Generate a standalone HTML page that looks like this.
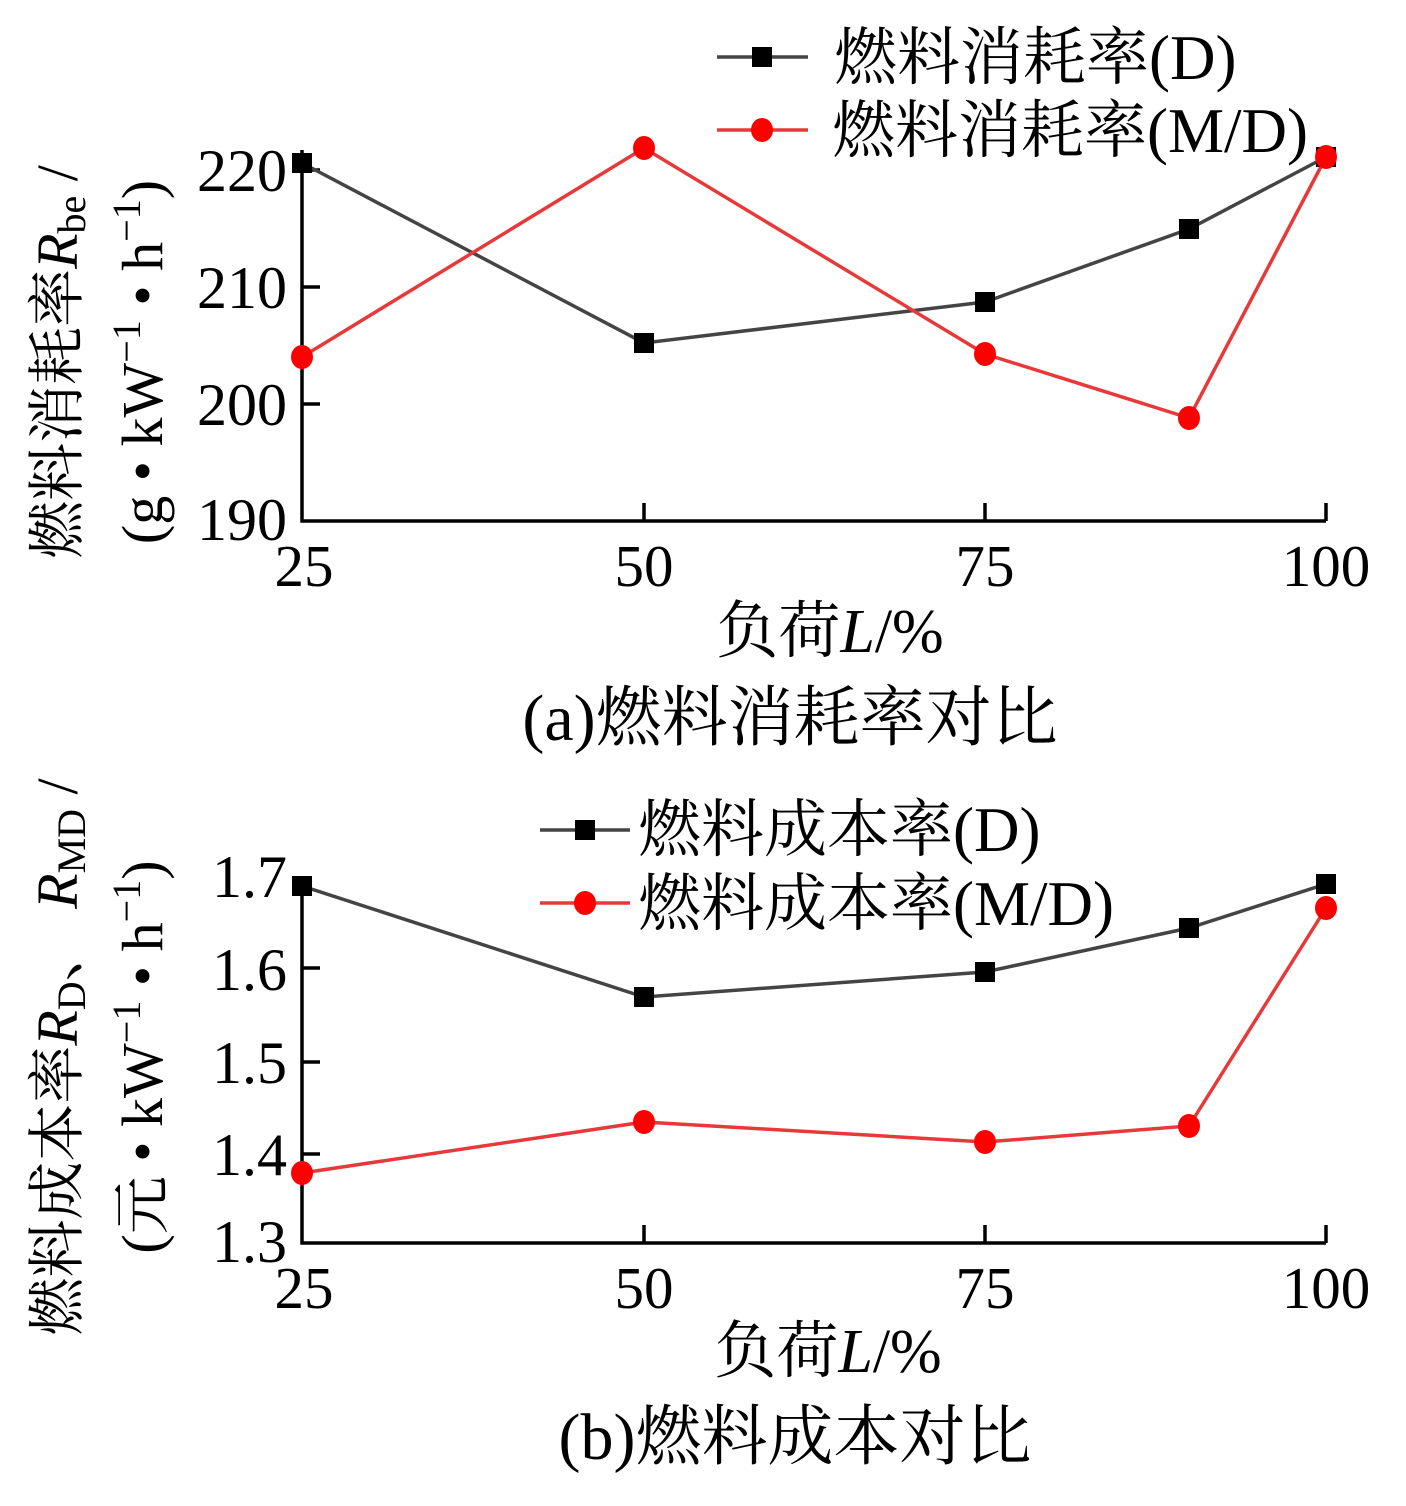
<!DOCTYPE html>
<html><head><meta charset="utf-8"><style>
html,body{margin:0;padding:0;background:#fff;}
svg{display:block;}
text{font-family:"Liberation Serif","Noto Serif CJK SC","Noto Sans CJK SC",serif;fill:#000;}
</style></head><body>
<svg width="1406" height="1506" viewBox="0 0 1406 1506" xmlns="http://www.w3.org/2000/svg">
<!-- Chart A -->
<g stroke="#000" stroke-width="3.5" fill="none">
<path d="M302,150 V521 H1326"/>
<path d="M302,287 H320 M302,404 H320 M302,170 H320"/>
<path d="M644,521 V503 M985,521 V503 M1326,521 V503"/>
</g>
<g font-size="60" text-anchor="end">
<text x="287" y="191">220</text><text x="287" y="308">210</text><text x="287" y="425">200</text><text x="287" y="540">190</text>
</g>
<g font-size="59" text-anchor="middle">
<text x="304" y="586">25</text><text x="644" y="586">50</text><text x="985" y="586">75</text><text x="1326" y="586">100</text>
<text x="830" y="652" font-size="62">负荷<tspan font-style="italic">L</tspan>/%</text>
<text x="790" y="740" font-size="66">(a)燃料消耗率对比</text>
</g>
<g transform="translate(77,362) rotate(-90)" font-size="58" text-anchor="middle">
<text x="0" y="0">燃料消耗率<tspan font-style="italic">R</tspan><tspan font-size="40" dy="8">be</tspan><tspan dy="-8"> /</tspan></text>
</g>
<g transform="translate(162,362) rotate(-90)" font-size="58" text-anchor="middle">
<text x="0" y="0">(g • kW<tspan font-size="40" dy="-22">−1</tspan><tspan dy="22"> • h</tspan><tspan font-size="40" dy="-22">−1</tspan><tspan dy="22">)</tspan></text>
</g>
<polyline points="302,163 644,343 985,302 1189,229 1326,157" fill="none" stroke="#444" stroke-width="3.5"/>
<polyline points="302,357 644,148 985,354 1189,418 1326,157" fill="none" stroke="#e8393a" stroke-width="3.5"/>
<g fill="#000">
<rect x="292" y="153" width="20" height="20"/><rect x="634" y="333" width="20" height="20"/><rect x="975" y="292" width="20" height="20"/><rect x="1179" y="219" width="20" height="20"/><rect x="1316" y="147" width="20" height="20"/>
</g>
<g fill="#ff0000">
<ellipse cx="302" cy="357" rx="11" ry="12"/><ellipse cx="644" cy="148" rx="11" ry="12"/><ellipse cx="985" cy="354" rx="11" ry="12"/><ellipse cx="1189" cy="418" rx="11" ry="12"/><ellipse cx="1326" cy="157" rx="11" ry="12"/>
</g>
<line x1="717" y1="57" x2="808" y2="57" stroke="#444" stroke-width="3.5"/>
<rect x="752" y="47" width="20" height="20" fill="#000"/>
<line x1="717" y1="130" x2="808" y2="130" stroke="#e8393a" stroke-width="3.5"/>
<ellipse cx="762" cy="130" rx="11" ry="12" fill="#ff0000"/>
<g font-size="63">
<text x="834" y="79">燃料消耗率(D)</text>
<text x="832" y="152">燃料消耗率(M/D)</text>
</g>

<!-- Chart B -->
<g stroke="#000" stroke-width="3.5" fill="none">
<path d="M302,880 V1243 H1326"/>
<path d="M302,968 H320 M302,1062 H320 M302,1154 H320"/>
<path d="M644,1243 V1225 M985,1243 V1225 M1326,1243 V1225"/>
</g>
<g font-size="60" text-anchor="end">
<text x="287" y="897">1.7</text><text x="287" y="990">1.6</text><text x="287" y="1083">1.5</text><text x="287" y="1175">1.4</text><text x="287" y="1262">1.3</text>
</g>
<g font-size="59" text-anchor="middle">
<text x="304" y="1308">25</text><text x="644" y="1308">50</text><text x="985" y="1308">75</text><text x="1326" y="1308">100</text>
<text x="828" y="1372" font-size="62">负荷<tspan font-style="italic">L</tspan>/%</text>
<text x="795" y="1459" font-size="66">(b)燃料成本对比</text>
</g>
<g transform="translate(77,1057) rotate(-90)" font-size="58" text-anchor="middle">
<text x="0" y="0">燃料成本率<tspan font-style="italic">R</tspan><tspan font-size="40" dy="8">D</tspan><tspan dy="-8">、 </tspan><tspan font-style="italic">R</tspan><tspan font-size="40" dy="8">MD</tspan><tspan dy="-8"> /</tspan></text>
</g>
<g transform="translate(162,1057) rotate(-90)" font-size="58" text-anchor="middle">
<text x="0" y="0">(元 • kW<tspan font-size="40" dy="-22">−1</tspan><tspan dy="22"> • h</tspan><tspan font-size="40" dy="-22">−1</tspan><tspan dy="22">)</tspan></text>
</g>
<polyline points="302,886 644,997 985,972 1189,928 1326,884" fill="none" stroke="#444" stroke-width="3.5"/>
<polyline points="302,1173 644,1122 985,1142 1189,1126 1326,908" fill="none" stroke="#e8393a" stroke-width="3.5"/>
<g fill="#000">
<rect x="292" y="876" width="20" height="20"/><rect x="634" y="987" width="20" height="20"/><rect x="975" y="962" width="20" height="20"/><rect x="1179" y="918" width="20" height="20"/><rect x="1316" y="874" width="20" height="20"/>
</g>
<g fill="#ff0000">
<ellipse cx="302" cy="1173" rx="11" ry="12"/><ellipse cx="644" cy="1122" rx="11" ry="12"/><ellipse cx="985" cy="1142" rx="11" ry="12"/><ellipse cx="1189" cy="1126" rx="11" ry="12"/><ellipse cx="1326" cy="908" rx="11" ry="12"/>
</g>
<line x1="540" y1="830" x2="630" y2="830" stroke="#444" stroke-width="3.5"/>
<rect x="575" y="820" width="20" height="20" fill="#000"/>
<line x1="540" y1="903" x2="630" y2="903" stroke="#e8393a" stroke-width="3.5"/>
<ellipse cx="585" cy="903" rx="11" ry="12" fill="#ff0000"/>
<g font-size="63">
<text x="638" y="851">燃料成本率(D)</text>
<text x="638" y="925">燃料成本率(M/D)</text>
</g>
</svg>
</body></html>
